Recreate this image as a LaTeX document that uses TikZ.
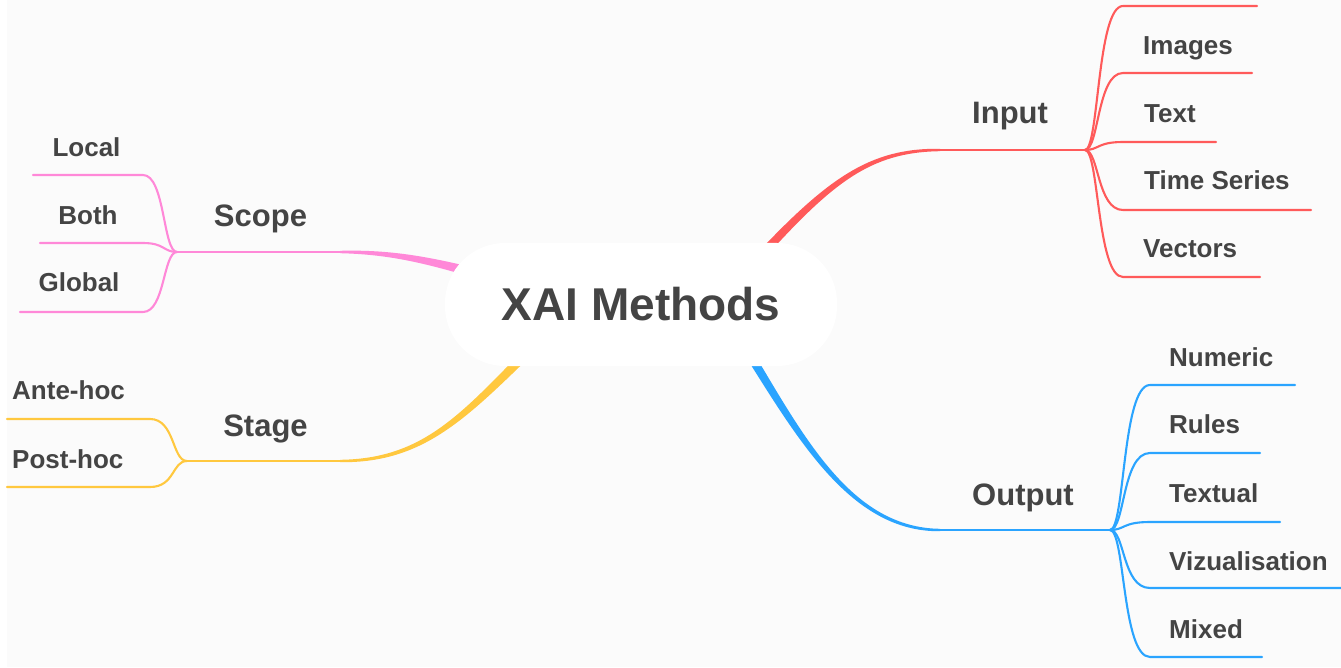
\documentclass[tikz,border=0pt]{standalone}
\usepackage{fontspec}
\setmainfont{Liberation Sans}
\usetikzlibrary{calc}

\definecolor{bgc}{HTML}{FBFBFB}
\definecolor{txt}{HTML}{444444}
\definecolor{inred}{HTML}{FF5A5A}
\definecolor{outblue}{HTML}{2AA4FF}
\definecolor{scpink}{HTML}{FF88D8}
\definecolor{styellow}{HTML}{FFC83F}

% Tapered cubic branch: #1 colour, #2..#5 named points (start, control 1,
% control 2, end), #6..#9 half widths at start, control 1, control 2, end.
\newcommand\taperbranch[9]{%
  \fill[#1]
    ($(#2)!#6!90:(#3)$)
      .. controls ($(#3)!#7!-90:(#2)$) and ($(#4)!#8!90:(#5)$) ..
    ($(#5)!#9!-90:(#4)$) --
    ($(#5)!#9!90:(#4)$)
      .. controls ($(#4)!#8!-90:(#5)$) and ($(#3)!#7!90:(#2)$) ..
    ($(#2)!#6!-90:(#3)$) -- cycle;}

\begin{document}
\begin{tikzpicture}[x=1pt,y=-1pt,
  hub/.style={fill=white, rounded corners=60pt, minimum width=392pt,
    minimum height=123pt, inner sep=0pt, text=txt,
    font=\fontsize{46}{52}\selectfont\bfseries},
  mainlbl/.style={inner sep=0pt, text=txt, font=\fontsize{31}{36}\selectfont\bfseries},
  leaflbl/.style={inner sep=0pt, text=txt, font=\fontsize{26}{30}\selectfont\bfseries},
  trunk/.style={line width=2.4pt},
  twig/.style={line width=2.1pt, line cap=round}]

\useasboundingbox (0,0) rectangle (1341,668);
\fill[white] (0,0) rectangle (1341,668);
\fill[bgc] (7,0) rectangle (1341,667);

% ---------- main branch geometry ----------
\coordinate (ia) at (755,262);  \coordinate (ib) at (830,180);
\coordinate (ic) at (870,150);  \coordinate (id) at (940,150);
\coordinate (ifork) at (1085,150);

\coordinate (oa) at (748,352);  \coordinate (ob) at (802,440);
\coordinate (oc) at (852,530);  \coordinate (od) at (940,530);
\coordinate (ofork) at (1110,530);

\coordinate (sa) at (475,273);  \coordinate (sb) at (420,258);
\coordinate (sc) at (385,252);  \coordinate (sd) at (340,252);
\coordinate (sfork) at (177,252);

\coordinate (ga) at (525,355);  \coordinate (gb) at (460,420);
\coordinate (gc) at (420,461);  \coordinate (gd) at (340,461);
\coordinate (gfork) at (187,461);

\taperbranch{inred}{ia}{ib}{ic}{id}{4.4pt}{3.2pt}{2.2pt}{1.2pt}
\taperbranch{outblue}{oa}{ob}{oc}{od}{4.4pt}{3.2pt}{2.2pt}{1.2pt}
\taperbranch{scpink}{sa}{sb}{sc}{sd}{4.8pt}{3.4pt}{2.3pt}{1.2pt}
\taperbranch{styellow}{ga}{gb}{gc}{gd}{4.6pt}{3.3pt}{2.2pt}{1.2pt}

\draw[inred, trunk] (id) -- (ifork);
\draw[outblue, trunk] (od) -- (ofork);
\draw[scpink, trunk] (sd) -- (sfork);
\draw[styellow, trunk] (gd) -- (gfork);

% ---------- central topic ----------
\node[hub] (xai) at (641,304.5) {XAI Methods};

% ---------- branch titles ----------
\node[mainlbl, anchor=base west] (input) at (972,124) {Input};
\node[mainlbl, anchor=base west] (output) at (972,505) {Output};
\node[mainlbl, anchor=base] (scope) at (260.5,226.5) {Scope};
\node[mainlbl, anchor=base] (stage) at (265.5,436.5) {Stage};

% ---------- Input leaves ----------
\foreach \k/\ly/\xe in {0/6/1257, 1/73/1252, 2/142/1216, 3/210/1311, 4/277/1260}{
  \coordinate (in\k s) at (1123,\ly);
  \coordinate (in\k e) at (\xe,\ly);
  \draw[inred, twig] (ifork) .. controls (1099,150) and (1097,\ly) .. (in\k s) -- (in\k e);
}
\node[leaflbl, anchor=base west] (images) at (1143,54.5) {Images};
\node[leaflbl, anchor=base west] (text) at (1144,122.7) {Text};
\node[leaflbl, anchor=base west] (timeseries) at (1144,190) {Time Series};
\node[leaflbl, anchor=base west] (vectors) at (1143,258) {Vectors};

% ---------- Output leaves ----------
\foreach \k/\ly/\xe in {0/385/1295, 1/453/1260, 2/522/1280, 3/588/1341, 4/657/1262}{
  \coordinate (out\k s) at (1150,\ly);
  \coordinate (out\k e) at (\xe,\ly);
  \draw[outblue, twig] (ofork) .. controls (1125,530) and (1122,\ly) .. (out\k s) -- (out\k e);
}
\node[leaflbl, anchor=base west] (numeric) at (1169,366.5) {Numeric};
\node[leaflbl, anchor=base west] (rules) at (1169,433) {Rules};
\node[leaflbl, anchor=base west] (textual) at (1169,502) {Textual};
\node[leaflbl, anchor=base west] (vizualisation) at (1169,570) {Vizualisation};
\node[leaflbl, anchor=base west] (mixed) at (1169,638) {Mixed};

% ---------- Scope leaves ----------
\foreach \k/\ly/\xe in {0/175/33, 1/243/40, 2/312/20}{
  \coordinate (sc\k s) at (143,\ly);
  \coordinate (sc\k e) at (\xe,\ly);
  \draw[scpink, twig] (sfork) .. controls (163,252) and (165,\ly) .. (sc\k s) -- (sc\k e);
}
\node[leaflbl, anchor=base] (local) at (86.5,157) {Local};
\node[leaflbl, anchor=base] (both) at (88,225) {Both};
\node[leaflbl, anchor=base] (global) at (79,292) {Global};

% ---------- Stage leaves ----------
\foreach \k/\ly in {0/419, 1/487}{
  \coordinate (st\k s) at (150,\ly);
  \coordinate (st\k e) at (7,\ly);
  \draw[styellow, twig] (gfork) .. controls (172,461) and (175,\ly) .. (st\k s) -- (st\k e);
}
\node[leaflbl, anchor=base west] (antehoc) at (12,399) {Ante-hoc};
\node[leaflbl, anchor=base west] (posthoc) at (12,468) {Post-hoc};

\end{tikzpicture}
\end{document}
